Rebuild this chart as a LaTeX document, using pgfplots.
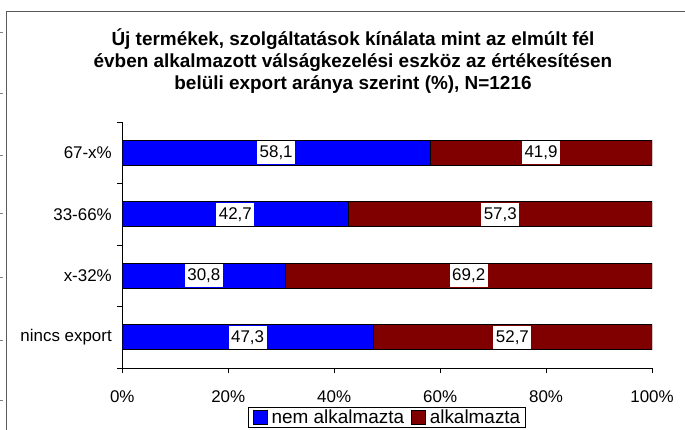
\documentclass[border=0pt]{standalone}
\usepackage{fontspec}
\setmainfont{Liberation Sans}
\usepackage{pgfplots}
\usepackage{pgfplotstable}
\pgfplotsset{compat=1.18}

\definecolor{nemblue}{RGB}{0,0,255}
\definecolor{alkred}{RGB}{128,0,0}
\definecolor{framegray}{RGB}{90,90,90}

% share of firms (%) per export share group; cat 0 = bottom bar
\pgfplotstableread{
cat nem  alk
0   47.3 52.7
1   30.8 69.2
2   42.7 57.3
3   58.1 41.9
}\exportdata

\pgfplotsset{
  /pgf/number format/assume math mode=true,
  geom/.style={
    scale only axis,
    width=529.7bp, height=246bp,
    at={(122.3bp,62bp)}, anchor=south west,
    xmin=0, xmax=100, ymin=-0.5, ymax=3.5,
  },
}

\begin{document}
\begin{tikzpicture}
\useasboundingbox (0,0) rectangle (685bp,430bp);

% outer chart frame (partly cut off)
\draw[framegray, line width=1bp] (6bp,0) -- (6bp,418bp) -- (685bp,418bp);
\foreach \yy in {32,93,155,213,277,340,400}
  \draw[gray, line width=0.8bp] (0,430bp-\yy bp) -- (2.5bp,430bp-\yy bp);

\node[align=center, font=\fontsize{19}{22.5}\selectfont\bfseries] at (353bp,369bp)
  {Új termékek, szolgáltatások kínálata mint az elmúlt fél\\
   évben alkalmazott válságkezelési eszköz az értékesítésen\\
   belüli export aránya szerint (\%), N=1216};

\begin{axis}[
  geom,
  xbar stacked,
  bar width=25bp,
  axis x line*=bottom,
  axis y line*=left,
  axis line style={black, line width=0.8bp},
  tick style={black, line width=0.8bp},
  tick align=outside,
  major tick length=5bp,
  xtick={0,20,40,60,80,100},
  xticklabel={\pgfmathprintnumber{\tick}\%},
  xticklabel style={yshift=-14bp},
  ytick={-0.5,0.5,1.5,2.5,3.5},
  yticklabels={},
  extra y ticks={0,1,2,3},
  extra y tick labels={nincs export,x-32\%,33-66\%,67-x\%},
  extra y tick style={major tick length=0pt, yticklabel style={xshift=-7bp}},
  ticklabel style={font=\fontsize{17}{20}\selectfont},
  legend columns=2,
  legend style={
    at={(axis description cs:0.5,-0.1585)}, anchor=north,
    draw=black, line width=0.6bp,
    inner xsep=4bp, inner ysep=1bp,
    font=\fontsize{19}{22}\selectfont,
    nodes={inner sep=1.5bp},
    /tikz/every odd column/.append style={column sep=3bp},
    /tikz/every even column/.append style={column sep=5bp},
  },
  legend image code/.code={
    \draw[#1, draw=black, line width=0.6bp] (0bp,-7bp) rectangle (14bp,7bp);
  },
]
\addplot[fill=nemblue, draw=black, line width=0.6bp]
  table[x=nem, y=cat] {\exportdata};
\addplot[fill=alkred, draw=black, line width=0.6bp]
  table[x=alk, y=cat] {\exportdata};
\legend{nem alkalmazta, alkalmazta}
\end{axis}

% value labels centred in each segment
\begin{axis}[
  geom,
  hide axis,
  clip=false,
  nodes near coords={\pgfmathprintnumber[fixed, fixed zerofill, precision=1, use comma]{\pgfplotspointmeta}},
  every node near coord/.style={
    anchor=center, fill=white, inner xsep=2.5bp, inner ysep=0pt,
    minimum height=23bp, text=black,
    font=\fontsize{17}{20}\selectfont,
  },
  point meta=explicit,
]
\addplot[draw=none, mark=none]
  table[x expr=\thisrow{nem}/2, y=cat, meta=nem] {\exportdata};
\addplot[draw=none, mark=none]
  table[x expr=\thisrow{nem}+\thisrow{alk}/2, y=cat, meta=alk] {\exportdata};
\end{axis}
\end{tikzpicture}
\end{document}
